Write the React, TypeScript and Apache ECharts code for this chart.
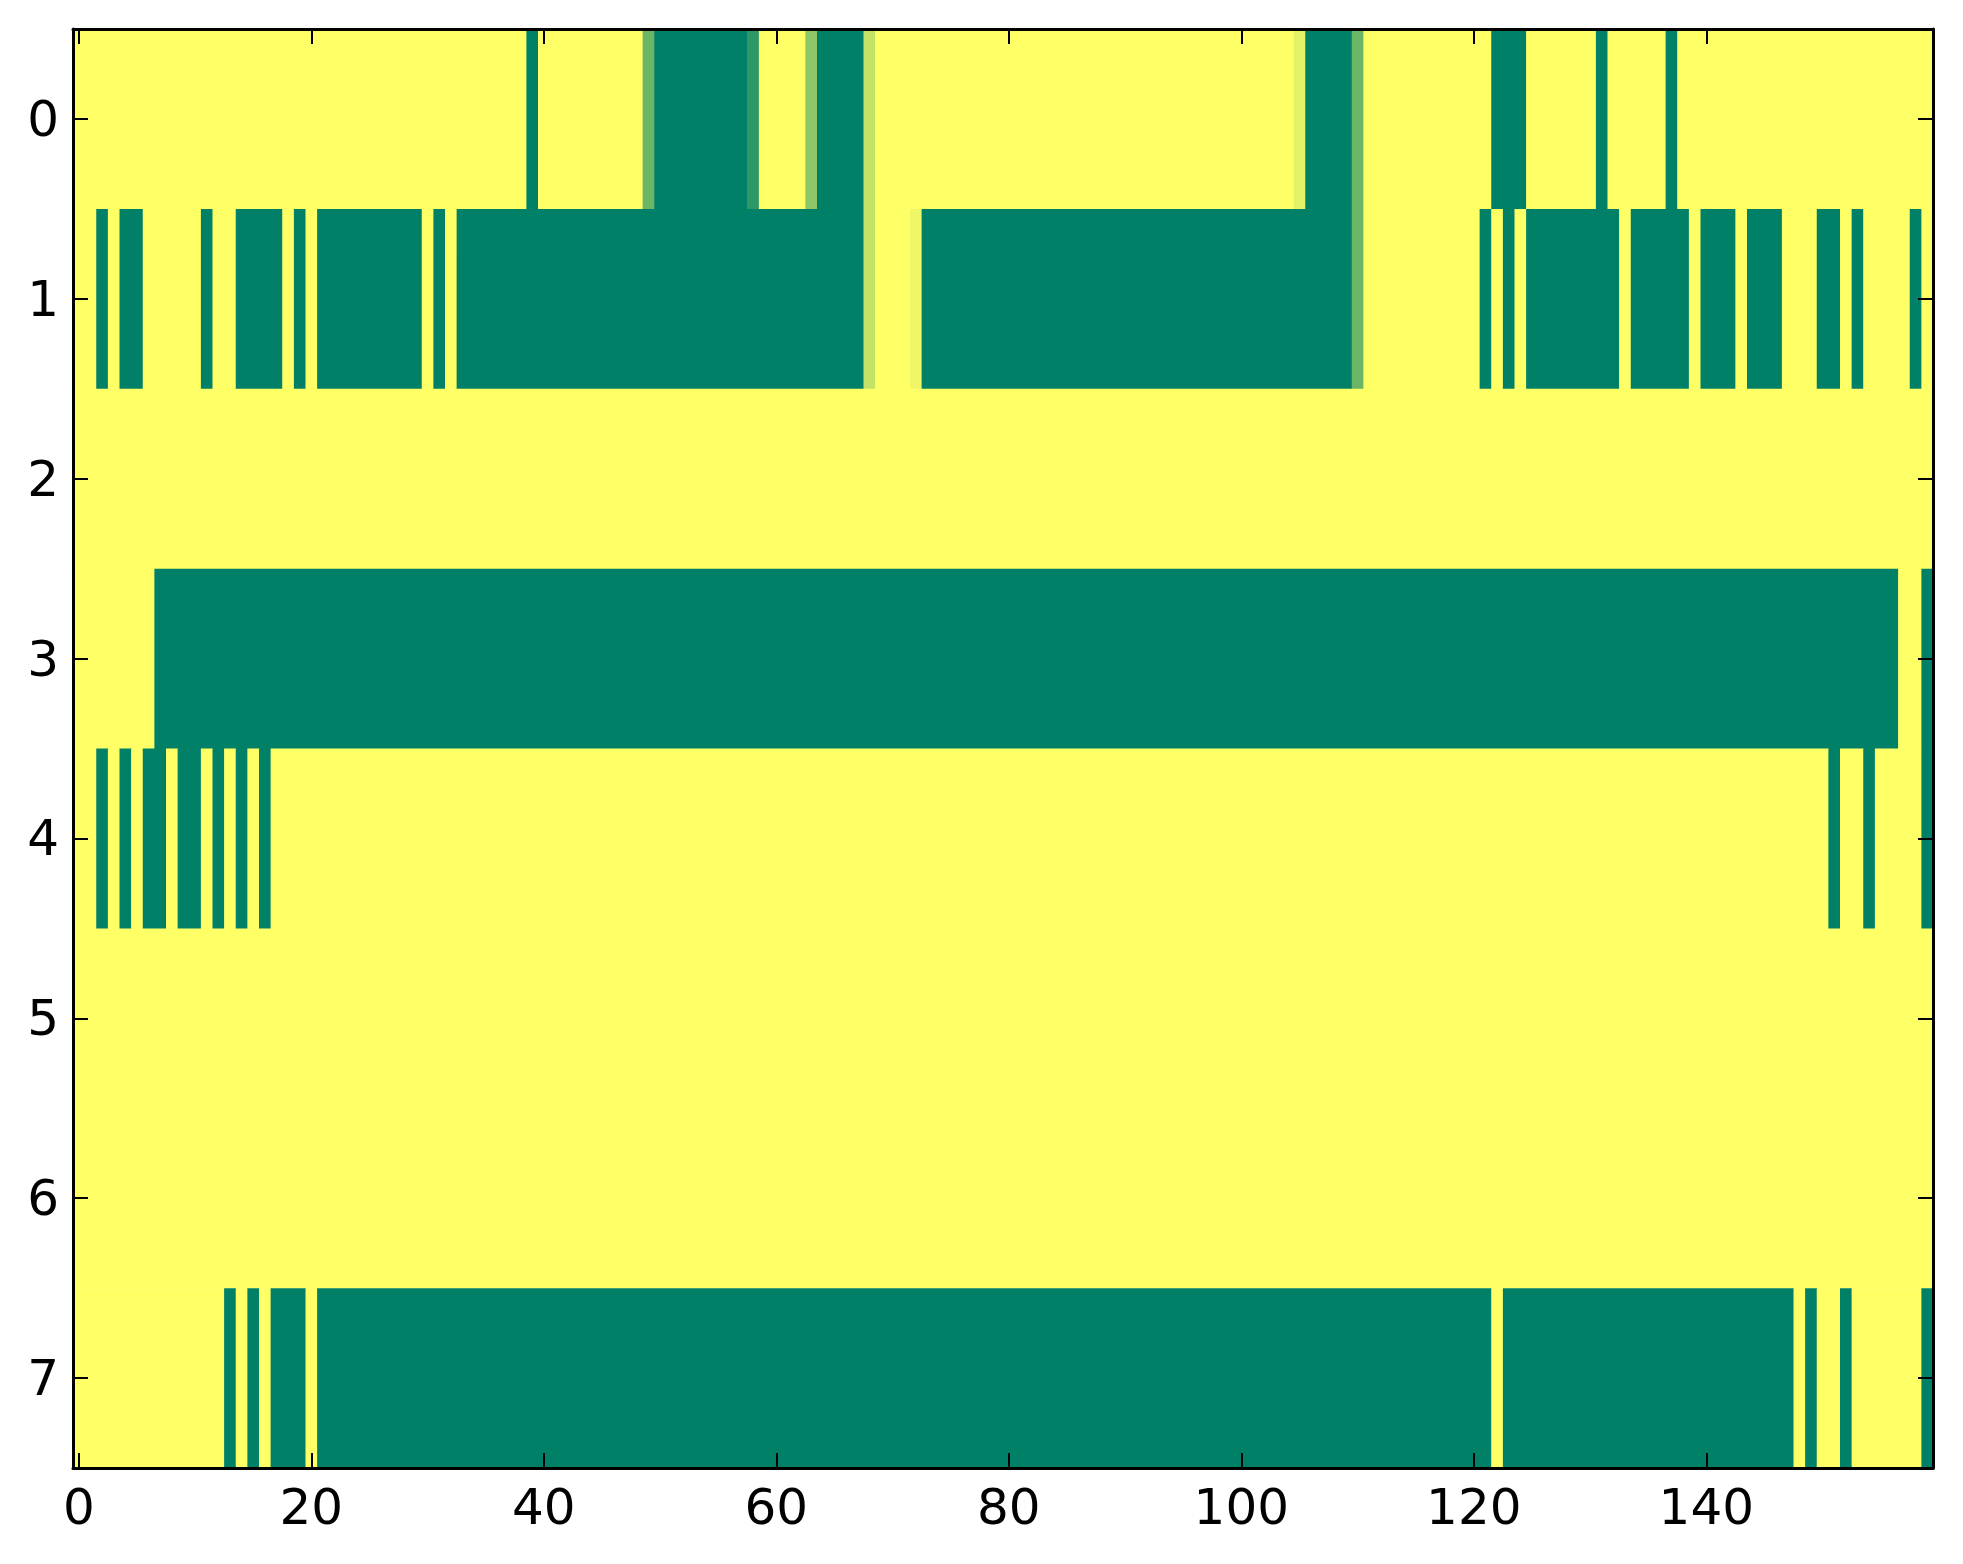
import React, { useEffect, useRef } from "react";
import * as echarts from "echarts";

// Each row is a run-length list: [value, number of consecutive columns]
const row0: number[][] = [[1,39],[0,1],[1,9],[0.42,1],[0,8],[0.18,1],[1,4],[0.55,1],[0,4],[0.77,1],[1,36],[0.9,1],[0,4],[0.42,1],[1,11],[0,3],[1,6],[0,1],[1,5],[0,1],[1,22]];
const row1: number[][] = [[1,2],[0,1],[1,1],[0,2],[1,5],[0,1],[1,2],[0,4],[1,1],[0,1],[1,1],[0,9],[1,1],[0,1],[1,1],[0,35],[0.77,1],[1,3],[0.94,1],[0,37],[0.42,1],[1,10],[0,1],[1,1],[0,1],[1,1],[0,8],[1,1],[0,5],[1,1],[0,3],[1,1],[0,3],[1,3],[0,2],[1,1],[0,1],[1,4],[0,1],[1,1]];
const row2: number[][] = [[1,160]];
const row3: number[][] = [[1,7],[0,150],[1,2],[0,1]];
const row4: number[][] = [[1,2],[0,1],[1,1],[0,1],[1,1],[0,2],[1,1],[0,2],[1,1],[0,1],[1,1],[0,1],[1,1],[0,1],[1,134],[0,1],[1,2],[0,1],[1,4],[0,1]];
const row5: number[][] = [[1,160]];
const row6: number[][] = [[1,160]];
const row7: number[][] = [[1,13],[0,1],[1,1],[0,1],[1,1],[0,3],[1,1],[0,101],[1,1],[0,25],[1,1],[0,1],[1,2],[0,1],[1,6],[0,1]];

const rows = [row0, row1, row2, row3, row4, row5, row6, row7];
const xTicks = [0, 20, 40, 60, 80, 100, 120, 140];
const yTicks = [0, 1, 2, 3, 4, 5, 6, 7];
const nCols = 160;

function buildData() {
  const out: number[][] = [];
  rows.forEach((runs, r) => {
    let c = 0;
    runs.forEach(([v, n]) => {
      out.push([c, c + n - 1, r, v]);
      c += n;
    });
  });
  return out;
}

export default function App() {
  const ref = useRef<HTMLDivElement>(null);
  useEffect(() => {
    if (!ref.current) return;
    const chart = echarts.init(ref.current, null, { renderer: "svg" });
    const font = { fontFamily: "DejaVu Sans", fontSize: 50, color: "#000" };
    const tickStyle = { color: "#000", width: 2 };
    const lineStyle = { color: "#000", width: 3 };
    chart.setOption({
      animation: false,
      backgroundColor: "#fff",
      grid: { left: 65, top: 21, width: 1860, height: 1439, containLabel: false },
      visualMap: {
        type: "continuous",
        show: false,
        min: 0,
        max: 1,
        dimension: 3,
        seriesIndex: 0,
        inRange: { color: ["#008066", "#ffff66"] },
      },
      xAxis: [
        {
          type: "value",
          min: -0.5,
          max: nCols - 0.5,
          position: "bottom",
          z: 10,
          axisLine: { show: true, onZero: false, lineStyle },
          axisTick: { show: true, inside: true, length: 15, customValues: xTicks, lineStyle: tickStyle },
          axisLabel: { show: true, margin: 14, customValues: xTicks, ...font },
          splitLine: { show: false },
        },
        {
          type: "value",
          min: -0.5,
          max: nCols - 0.5,
          position: "top",
          z: 10,
          axisLine: { show: true, onZero: false, lineStyle },
          axisTick: { show: true, inside: true, length: 15, customValues: xTicks, lineStyle: tickStyle },
          axisLabel: { show: false },
          splitLine: { show: false },
        },
      ],
      yAxis: [
        {
          type: "value",
          min: -0.5,
          max: 7.5,
          inverse: true,
          position: "left",
          z: 10,
          axisLine: { show: true, onZero: false, lineStyle },
          axisTick: { show: true, inside: true, length: 15, customValues: yTicks, lineStyle: tickStyle },
          axisLabel: { show: true, margin: 14, customValues: yTicks, ...font },
          splitLine: { show: false },
        },
        {
          type: "value",
          min: -0.5,
          max: 7.5,
          inverse: true,
          position: "right",
          z: 10,
          axisLine: { show: true, onZero: false, lineStyle },
          axisTick: { show: true, inside: true, length: 15, customValues: yTicks, lineStyle: tickStyle },
          axisLabel: { show: false },
          splitLine: { show: false },
        },
      ],
      series: [
        {
          type: "custom",
          xAxisIndex: 0,
          yAxisIndex: 0,
          z: 2,
          encode: { x: [0, 1], y: 2 },
          data: buildData(),
          renderItem: (params: any, api: any) => {
            const s = api.value(0);
            const e = api.value(1);
            const r = api.value(2);
            const a = api.coord([s - 0.5, r - 0.5]);
            const b = api.coord([e + 0.5, r + 0.5]);
            const x = Math.min(a[0], b[0]);
            const y = Math.min(a[1], b[1]);
            return {
              type: "rect",
              shape: { x, y, width: Math.abs(b[0] - a[0]) + 0.6, height: Math.abs(b[1] - a[1]) + 0.6 },
              style: { fill: api.visual("color") },
            };
          },
        },
      ],
    });
    return () => chart.dispose();
  }, []);
  return <div ref={ref} style={{ width: 1947, height: 1548 }} />;
}
